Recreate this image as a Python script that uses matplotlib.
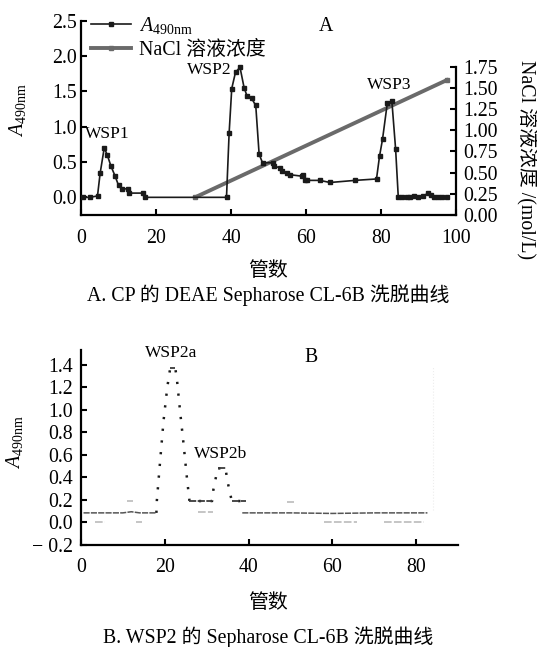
import numpy as np
import matplotlib
matplotlib.use('Agg')
import matplotlib.pyplot as plt
from matplotlib.ticker import FuncFormatter

plt.rcParams['font.family'] = ['Liberation Serif', 'Noto Sans CJK SC']
plt.rcParams['mathtext.fontset'] = 'custom'
plt.rcParams['mathtext.rm'] = 'Liberation Serif'
plt.rcParams['mathtext.it'] = 'Liberation Serif:italic'

# ---- panel A data ----
tubeA = [0.6, 2.4, 4.4, 5.1, 6.2, 7.0, 8.0, 9.1, 10.0, 10.8, 12.6, 12.8, 16.6, 17.1,
         38.8, 39.5, 40.2, 41.2, 42.4, 43.5, 44.3, 45.5, 46.6, 47.5, 48.4, 51.3, 51.4,
         53.1, 53.5, 54.8, 55.8, 58.8, 59.3, 59.7, 60.2, 63.7, 66.4, 73.1, 78.8, 79.6,
         80.4, 81.7, 82.9, 83.9, 84.6, 85.7, 86.8, 87.7, 88.8, 89.9, 91.3, 92.6, 93.3,
         94.0, 95.2, 96.3, 97.5]
a490A = [0.00, 0.00, 0.02, 0.34, 0.70, 0.60, 0.44, 0.30, 0.17, 0.12, 0.12, 0.06, 0.06, 0.00,
         0.00, 0.91, 1.54, 1.77, 1.84, 1.55, 1.43, 1.40, 1.30, 0.61, 0.49, 0.49, 0.44,
         0.42, 0.37, 0.34, 0.32, 0.30, 0.32, 0.25, 0.24, 0.24, 0.21, 0.24, 0.26, 0.58,
         0.82, 1.34, 1.36, 0.68, 0.01, 0.01, 0.01, 0.01, 0.02, 0.01, 0.02, 0.06, 0.03,
         0.01, 0.01, 0.01, 0.01]
tubeNaCl = [30.5, 97.5]
nacl = [0.21, 1.59]

peaksA = ['WSP1', 'WSP2', 'WSP3']
peakA_x = [6.9, 34.1, 82.1]
peakA_y = [0.89, 1.80, 1.59]

xticksA = [0, 20, 40, 60, 80, 100]
yticksA = [0.0, 0.5, 1.0, 1.5, 2.0, 2.5]
rticksA = [0.0, 0.25, 0.5, 0.75, 1.0, 1.25, 1.5, 1.75]

# ---- panel B data ----
base1_x = [0.6, 10.0, 12.0, 13.0, 14.0, 18.0]
base1_y = [0.085, 0.085, 0.095, 0.09, 0.085, 0.085]
peak_x = [18.0, 18.1, 18.9, 19.7, 20.6, 21.3, 22.5, 22.9, 23.7, 24.5, 25.3, 25.9,
          31.3, 31.6, 32.1, 32.6, 34.5, 34.9, 35.4, 36.0, 39.5]
peak_y = [0.085, 0.19, 0.55, 0.90, 1.20, 1.37, 1.37, 1.27, 0.97, 0.69, 0.39, 0.19,
          0.19, 0.29, 0.38, 0.48, 0.48, 0.38, 0.29, 0.19, 0.19]
base2_x = [38.5, 50.0, 60.0, 70.0, 82.7]
base2_y = [0.085, 0.085, 0.08, 0.085, 0.085]
# faint grey fragments
faint_x0 = [3.4, 13.2, 10.9, 28.0, 49.2, 57.9, 72.3]
faint_x1 = [5.7, 14.5, 12.5, 31.6, 50.8, 66.0, 81.8]
faint_y = [0.0, 0.0, 0.19, 0.095, 0.18, 0.0, 0.0]

peaksB = ['WSP2a', 'WSP2b']
peakB_x = [21.5, 33.3]
peakB_y = [1.50, 0.61]

xticksB = [0, 20, 40, 60, 80]
yticksB = [-0.2, 0.0, 0.2, 0.4, 0.6, 0.8, 1.0, 1.2, 1.4]

FS = 14.3
FS_LAB = 12.5
W, H = 537, 647
fig = plt.figure(figsize=(W / 100, H / 100), dpi=100)


def box(l, t, r, b):
    return [l / W, 1 - b / H, (r - l) / W, (b - t) / H]


# ================= panel A =================
ax = fig.add_axes(box(81, 20.7, 456, 215))
ax.plot(tubeA, a490A, color='#1a1a1a', lw=1.2, marker='s', ms=3, zorder=3,
        label=r'$A_{\mathrm{490nm}}$')
ax2 = ax.twinx()
ax2.plot(tubeNaCl, nacl, color='#6a6a6a', lw=2.8, marker='s', ms=3, zorder=2,
         label='NaCl 溶液浓度')
ax.set_zorder(ax2.get_zorder() + 1)
ax.patch.set_visible(False)

ax.set_xlim(0, 100)
ax.set_ylim(-0.25, 2.5)
ax2.set_ylim(0, (215.7 - 20.7) / 85.1)
ax.set_xticks(xticksA)
ax.set_yticks(yticksA)
ax2.set_yticks(rticksA)
ax.yaxis.set_major_formatter(FuncFormatter(lambda v, p: f'{v:.1f}'))
ax2.yaxis.set_major_formatter(FuncFormatter(lambda v, p: f'{v:.2f}'))

for a in (ax, ax2):
    a.spines['top'].set_visible(False)
    for s in a.spines.values():
        s.set_linewidth(1.6)
ax.spines['right'].set_visible(False)
ax2.spines['left'].set_visible(False)
ax2.spines['bottom'].set_visible(False)
ax2.spines['right'].set_bounds(0, 1.75)

ax.tick_params(axis='both', direction='in', length=4, width=1.5, labelsize=FS)
ax.tick_params(axis='x', pad=10)
ax.tick_params(axis='y', pad=3)
ax2.tick_params(axis='y', direction='in', length=4, width=1.5, labelsize=FS, pad=5)

for name, px, py in zip(peaksA, peakA_x, peakA_y):
    ax.text(px, py, name, fontsize=FS_LAB, ha='center', va='center')
ax.text(65.3, 2.42, 'A', fontsize=FS, ha='center', va='center')

h1, l1 = ax.get_legend_handles_labels()
h2, l2 = ax2.get_legend_handles_labels()
ax.legend(h1 + h2, l1 + l2, loc='upper left', bbox_to_anchor=(-0.005, 1.09),
          frameon=False, fontsize=FS, handlelength=2.0, handletextpad=0.4,
          labelspacing=0.25, borderaxespad=0.2)

fig.text(17 / W, 1 - 110 / H, r'$A_{\mathrm{490nm}}$', rotation=90,
         fontsize=FS, ha='center', va='center')
fig.text(527 / W, 1 - 160 / H, 'NaCl 溶液浓度 /(mol/L)', rotation=270,
         fontsize=FS, ha='center', va='center')
fig.text(268 / W, 1 - 271 / H, '管数', fontsize=FS, ha='center', va='center')
fig.text(268 / W, 1 - 295 / H, 'A. CP 的 DEAE Sepharose CL-6B 洗脱曲线',
         fontsize=FS, ha='center', va='center')

# ================= panel B =================
bx = fig.add_axes(box(81, 350, 458, 545))
for x0, x1, y in zip(faint_x0, faint_x1, faint_y):
    bx.plot([x0, x1], [y, y], color='#b5b5b5', lw=1.1, dashes=(5, 1.5))
bx.plot([84.1, 84.1], [0.11, 1.38], color='#ededed', lw=0.8, ls=':')
bx.plot(base1_x, base1_y, color='#555555', lw=1.1, dashes=(4, 0.8))
bx.plot(base2_x, base2_y, color='#555555', lw=1.1, dashes=(4, 0.8))
bx.plot(peak_x, peak_y, color='#1a1a1a', lw=1.8, dashes=(0.9, 3.8))
# flat stretches of the peak trace look like a continuous dashed line
for i in range(len(peak_x) - 1):
    if peak_y[i] == peak_y[i + 1]:
        bx.plot(peak_x[i:i + 2], peak_y[i:i + 2], color='#3a3a3a', lw=1.3,
                dashes=(4, 0.8))

bx.set_xlim(0, 90)
bx.set_ylim(-0.2, 1.53)
bx.set_xticks(xticksB)
bx.set_yticks(yticksB)
bx.yaxis.set_major_formatter(
    FuncFormatter(lambda v, p: f'{v:.1f}'.replace('-', '\u2212 ')))
bx.spines['top'].set_visible(False)
bx.spines['right'].set_visible(False)
for s in bx.spines.values():
    s.set_linewidth(1.6)
bx.tick_params(axis='both', direction='in', length=4, width=1.5, labelsize=FS)
bx.tick_params(axis='x', pad=9)
bx.tick_params(axis='y', pad=6)

for name, px, py in zip(peaksB, peakB_x, peakB_y):
    bx.text(px, py, name, fontsize=FS_LAB, ha='center', va='center')
bx.text(55, 1.46, 'B', fontsize=FS, ha='center', va='center')

fig.text(15 / W, 1 - 442 / H, r'$A_{\mathrm{490nm}}$', rotation=90,
         fontsize=FS, ha='center', va='center')
fig.text(268 / W, 1 - 603 / H, '管数', fontsize=FS, ha='center', va='center')
fig.text(268 / W, 1 - 637 / H, 'B. WSP2 的 Sepharose CL-6B 洗脱曲线',
         fontsize=FS, ha='center', va='center')

fig.savefig('out.png', dpi=100)
